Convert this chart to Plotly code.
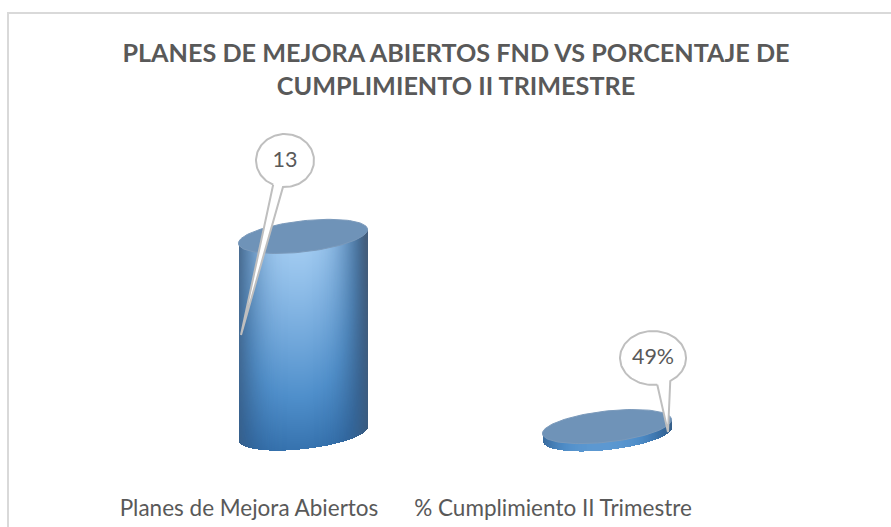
import numpy as np
import plotly.graph_objects as go

categories = ["Planes de Mejora Abiertos", "% Cumplimiento II Trimestre"]
values = [13, 0.49]
value_labels = ["13", "49%"]
title_lines = ["PLANES DE MEJORA ABIERTOS FND VS PORCENTAJE DE", "CUMPLIMIENTO II TRIMESTRE"]

W, H = 891, 527
FONT = "Lato"
TEXT = "#595959"
# layout geometry (pixels)
PLOT_BOTTOM = 484
X0, DX = 303.0, 304.0       # pixel position of first category, spacing
Y0, SY = 434.0, 15.2        # pixel position of value 0, pixels per unit
RX, RY, TILT = 65.0, 15.5, np.radians(-6.5)
TICK_SHIFT = [-54, -54]     # label offset from its column, pixels


def px2x(p):
    return (np.asarray(p, float) - X0) / DX


def py2y(p):
    return (Y0 - np.asarray(p, float)) / SY


def ellipse(cx, cy, rx, ry, tilt=0.0, n=120):
    t = np.linspace(0, 2 * np.pi, n)
    return (cx + rx * np.cos(t) * np.cos(tilt) - ry * np.sin(t) * np.sin(tilt),
            cy + rx * np.cos(t) * np.sin(tilt) + ry * np.sin(t) * np.cos(tilt))


def in_ellipse(px, py, cx, cy):
    dx, dy = px - cx, py - cy
    a = dx * np.cos(TILT) + dy * np.sin(TILT)
    b = -dx * np.sin(TILT) + dy * np.cos(TILT)
    return (a / RX) ** 2 + (b / RY) ** 2 <= 1


colorscale = [[0.0, "#27517c"], [0.3, "#2f6aa6"], [0.55, "#4f8fcb"], [0.8, "#7db0e0"], [1.0, "#a4cdf2"]]
edge_scale = [[0.0, "rgba(70,90,115,0)"], [1.0, "rgba(70,90,115,0.85)"]]

fig = go.Figure()

for i, v in enumerate(values):
    cx = X0 + DX * i
    top = Y0 - SY * v
    xs = np.arange(cx - RX - 1, cx + RX + 2, 1.0)
    ys = np.arange(top - RY - 8, Y0 + RY + 8, 1.0)
    gx, gy = np.meshgrid(xs, ys)
    slope = np.tan(TILT)
    inside_rect = (np.abs(gx - cx) <= RX * np.cos(TILT)) & \
                  (gy >= top + (gx - cx) * slope) & (gy <= Y0 + (gx - cx) * slope)
    mask = inside_rect | in_ellipse(gx, gy, cx, Y0)
    u = np.clip(np.abs(gx - cx + 3) / RX, 0, 1.1)
    w = np.clip((gy - top) / max(Y0 + RY - top, 1), 0, 1)
    across = 1 - 0.5 * u ** 3
    across = across - 0.12 * np.clip((gx - cx) / RX, 0, 1)
    if v > 2:
        down = 1.0 - 0.64 * w ** 1.25
        edge = (u ** 3.5) * (1 - 0.45 * w)
    else:
        down = 0.62
        edge = (u ** 4) * 0.4
    z = np.where(mask, across * down, np.nan)
    fig.add_trace(go.Heatmap(x=px2x(xs), y=py2y(ys), z=z, zmin=0, zmax=1, colorscale=colorscale,
                             showscale=False, hoverinfo="skip"))
    fig.add_trace(go.Heatmap(x=px2x(xs), y=py2y(ys), z=np.where(mask, edge, np.nan), zmin=0, zmax=1,
                             colorscale=edge_scale, showscale=False, hoverinfo="skip"))
    # top face
    ex, ey = ellipse(cx, top, RX, RY, TILT)
    fig.add_trace(go.Scatter(x=px2x(ex), y=py2y(ey), mode="lines", fill="toself",
                             fillcolor="#6f93b8", line=dict(color="#7b9abb", width=1),
                             hoverinfo="skip", showlegend=False))

# value callouts: (balloon centre, radii, tail base left/right, tail tip), pixels
callouts = [
    dict(c=(285, 160.5), r=(29, 26.5), a=(273, 185), b=(283, 187), tip=(241, 335)),
    dict(c=(653, 358), r=(33, 27), a=(657, 383), b=(671, 382), tip=(668, 432)),
]
for lab, co in zip(value_labels, callouts):
    cx, cy = co["c"]
    rx, ry = co["r"]
    ang = lambda p: np.arctan2((p[1] - cy) / ry, (p[0] - cx) / rx)
    a0, a1 = ang(co["b"]), ang(co["a"])
    if a1 < a0:
        a1 += 2 * np.pi
    # go round the balloon the long way, from a to b, then down to the tip
    t = np.linspace(a1, a0 + 2 * np.pi, 120)
    px = np.concatenate([cx + rx * np.cos(t), [co["tip"][0]], [cx + rx * np.cos(a1)]])
    py = np.concatenate([cy + ry * np.sin(t), [co["tip"][1]], [cy + ry * np.sin(a1)]])
    fig.add_trace(go.Scatter(x=px2x(px), y=py2y(py), mode="lines", fill="toself", fillcolor="white",
                             line=dict(color="#bfbfbf", width=2), hoverinfo="skip", showlegend=False))
    fig.add_trace(go.Scatter(x=px2x([cx]), y=py2y([cy + 1]), mode="text", text=[lab],
                             textfont=dict(family=FONT, size=21.5, color=TEXT),
                             textposition="middle center", hoverinfo="skip", showlegend=False))

fig.update_layout(
    width=W, height=H, autosize=False,
    paper_bgcolor="white", plot_bgcolor="white",
    margin=dict(l=0, r=0, t=0, b=H - PLOT_BOTTOM, pad=0),
    showlegend=False,
    xaxis=dict(range=[float(px2x(0)), float(px2x(W))], showgrid=False, zeroline=False, showline=False,
               tickmode="array",
               tickvals=[i + s / DX for i, s in enumerate(TICK_SHIFT)],
               ticktext=categories, ticks="outside", ticklen=4, tickcolor="rgba(0,0,0,0)",
               tickangle=0, tickfont=dict(family=FONT, size=22.5, color=TEXT)),
    yaxis=dict(range=[float(py2y(PLOT_BOTTOM)), float(py2y(0))], showgrid=False, zeroline=False,
               showline=False, showticklabels=False, ticks=""),
    title=dict(text="<br>".join(title_lines), x=456 / W, xanchor="center", xref="paper",
               y=1 - 62 / H, yanchor="top",
               font=dict(family=FONT, size=25.2, color=TEXT, weight="bold")),
    shapes=[
        dict(type="line", xref="paper", yref="paper", layer="above", x0=8 / W, x1=8 / W,
             y0=-1, y1=(PLOT_BOTTOM - 12) / PLOT_BOTTOM, line=dict(color="#d9d9d9", width=2)),
        dict(type="line", xref="paper", yref="paper", layer="above", x0=7 / W, x1=1,
             y0=(PLOT_BOTTOM - 13) / PLOT_BOTTOM, y1=(PLOT_BOTTOM - 13) / PLOT_BOTTOM,
             line=dict(color="#d9d9d9", width=2)),
    ],
)
fig.write_html("out.html", config={"displayModeBar": False},
               post_script="document.body.style.margin='0';window.dispatchEvent(new Event('resize'));")
